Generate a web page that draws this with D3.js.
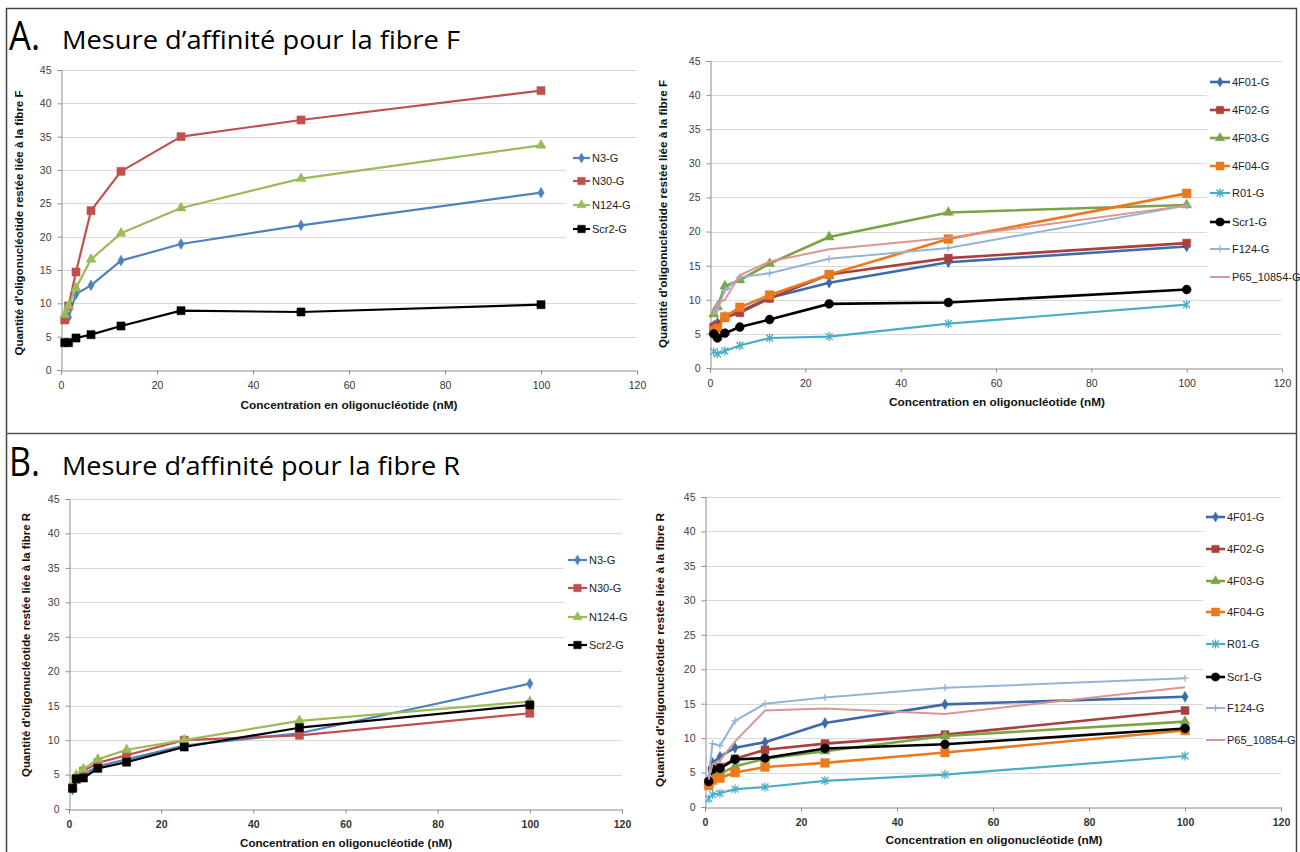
<!DOCTYPE html>
<html><head><meta charset="utf-8">
<script src="https://cdn.jsdelivr.net/npm/d3@7"></script>
<style>
html,body{margin:0;padding:0;background:#fff;}
svg{display:block;}
</style></head>
<body>
<svg id="chart" width="1300" height="852"></svg>
<script>
// ---------- DATA ----------
const concentrations = [0.78125, 1.5625, 3.125, 6.25, 12.5, 25, 50, 100];
const xTicks = [0, 20, 40, 60, 80, 100, 120];
const yTicks = [0, 5, 10, 15, 20, 25, 30, 35, 40, 45];

// A. fibre F, left panel
const aN3   = [8.2, 7.9, 11.4, 12.7, 16.4, 18.9, 21.7, 26.6];
const aN30  = [7.5, 9.6, 14.7, 23.9, 29.8, 35.0, 37.5, 41.9];
const aN124 = [8.3, 9.6, 12.3, 16.6, 20.5, 24.3, 28.7, 33.7];
const aScr2 = [4.1, 4.1, 4.8, 5.3, 6.6, 8.9, 8.7, 9.8];

// A. fibre F, right panel
const a4F01 = [6.2, 6.6, 7.5, 8.3, 10.3, 12.5, 15.5, 17.8];
const a4F02 = [6.0, 6.3, 7.4, 8.1, 10.2, 13.7, 16.1, 18.3];
const a4F03 = [7.9, 9.0, 12.0, 12.9, 15.3, 19.2, 22.8, 23.9];
const a4F04 = [5.5, 5.8, 7.5, 8.9, 10.7, 13.7, 18.9, 25.6];
const aR01  = [2.4, 2.1, 2.5, 3.3, 4.4, 4.6, 6.5, 9.3];
const aScr1 = [5.0, 4.4, 5.1, 6.0, 7.1, 9.4, 9.6, 11.5];
const aF124 = [8.0, 8.5, 11.4, 13.3, 13.9, 16.0, 17.6, 23.8];
const aP65  = [8.0, 9.5, 10.0, 13.6, 15.6, 17.4, 19.1, 23.8];

// B. fibre R, left panel
const bN3   = [2.8, 4.2, 5.0, 6.2, 7.2, 9.2, 11.0, 18.2];
const bN30  = [3.1, 4.3, 5.5, 6.7, 7.8, 10.0, 10.7, 13.9];
const bN124 = [3.2, 4.9, 5.8, 7.2, 8.6, 10.0, 12.8, 15.6];
const bScr2 = [3.0, 4.4, 4.5, 5.9, 6.8, 9.0, 11.8, 15.1];

// B. fibre R, right panel
const b4F01 = [3.8, 6.4, 7.3, 8.6, 9.4, 12.2, 14.9, 16.0];
const b4F02 = [3.6, 5.4, 5.8, 7.0, 8.3, 9.2, 10.5, 14.0];
const b4F03 = [3.4, 4.5, 4.8, 5.9, 7.0, 8.1, 10.3, 12.4];
const b4F04 = [3.1, 3.9, 4.2, 5.0, 5.8, 6.4, 7.9, 11.1];
const bR01  = [1.2, 1.8, 2.0, 2.6, 2.9, 3.8, 4.7, 7.4];
const bScr1 = [3.7, 5.5, 5.6, 6.9, 7.1, 8.5, 9.1, 11.4];
const bF124 = [4.5, 9.2, 8.9, 12.5, 15.0, 15.9, 17.3, 18.7];
const bP65  = [4.0, 6.2, 6.8, 9.5, 14.0, 14.3, 13.5, 17.4];

const leftNames  = ["N3-G", "N30-G", "N124-G", "Scr2-G"];
const rightNames = ["4F01-G", "4F02-G", "4F03-G", "4F04-G", "R01-G", "Scr1-G", "F124-G", "P65_10854-G"];

// ---------- STYLES ----------
const leftStyle = [
  {color:"#4F81BD", marker:"diamond", w:2.2, ms:34},
  {color:"#C0504D", marker:"square",  w:2.2, ms:66},
  {color:"#9BBB59", marker:"triangle",w:2.2, ms:44},
  {color:"#000000", marker:"square",  w:2.2, ms:66}
];
const rightStyle = [
  {color:"#3E6AAA", marker:"diamond", w:2.6, ms:34},
  {color:"#AA403D", marker:"square",  w:2.6, ms:64},
  {color:"#7DA344", marker:"triangle",w:2.6, ms:44},
  {color:"#EC7A1C", marker:"square",  w:2.6, ms:76},
  {color:"#4BACC6", marker:"asterisk",w:2.2, ms:7},
  {color:"#000000", marker:"circle",  w:2.6, ms:62},
  {color:"#95B3D7", marker:"plus",    w:2.0, ms:7},
  {color:"#D99694", marker:"none",    w:2.0, ms:0}
];

const FONT = "'Liberation Sans', Arial, sans-serif";
const svg = d3.select("#chart");

// frame
svg.append("rect").attr("x",0).attr("y",0).attr("width",1300).attr("height",852).attr("fill","#fff");
svg.append("path").attr("d","M6.5,852 V8.5 H1296.5 V852").attr("fill","none").attr("stroke","#444").attr("stroke-width",1.5);
svg.append("line").attr("x1",6).attr("x2",1297).attr("y1",433.5).attr("y2",433.5).attr("stroke","#555").attr("stroke-width",1.5);

// titles
function title(letter, text, y){
  svg.append("text").attr("x",9).attr("y",y).attr("font-family","'Open Sans', Arial, sans-serif")
    .attr("font-size",40).attr("fill","#000").attr("textLength",31).attr("lengthAdjust","spacingAndGlyphs").text(letter);
  svg.append("text").attr("x",62).attr("y",y-1).attr("font-family","'Open Sans', Arial, sans-serif")
    .attr("font-size",25).attr("fill","#000").attr("textLength",398).attr("lengthAdjust","spacingAndGlyphs").text(text);
}
title("A.", "Mesure d’affinité pour la fibre F", 50);
title("B.", "Mesure d’affinité pour la fibre R", 476);

function markerPath(type, size){
  if(type==="diamond") return d3.symbol(d3.symbolDiamond, size)();
  if(type==="square") return d3.symbol(d3.symbolSquare, size)();
  if(type==="triangle") return d3.symbol(d3.symbolTriangle, size)();
  if(type==="circle") return d3.symbol(d3.symbolCircle, size)();
  if(type==="asterisk"){ const s=size/2; return `M${-s},${-s}L${s},${s}M${-s},${s}L${s},${-s}M0,${-s-1}L0,${s+1}`; }
  if(type==="plus"){ const s=size/2; return `M${-s},0L${s},0M0,${-s}L0,${s}`; }
  return null;
}

function panel(cfg){
  const g = svg.append("g");
  const x = d3.scaleLinear().domain([0,120]).range([cfg.x0, cfg.x1]);
  const y = d3.scaleLinear().domain([0,45]).range([cfg.y0, cfg.y45]);

  // gridlines
  g.append("g").selectAll("line").data(yTicks.filter(d=>d>0)).join("line")
    .attr("x1",cfg.x0).attr("x2",cfg.x1)
    .attr("y1",d=>Math.round(y(d))+0.5).attr("y2",d=>Math.round(y(d))+0.5)
    .attr("stroke","#D9D9D9").attr("stroke-width",1);

  // legend background (covers gridlines)
  g.append("rect").attr("x",cfg.legBox[0]).attr("y",cfg.legBox[1])
    .attr("width",cfg.legBox[2]).attr("height",cfg.legBox[3]).attr("fill","#fff");

  // axes
  const xAxis = g.append("g").attr("transform",`translate(0,${Math.round(cfg.y0)+0.5})`)
    .call(d3.axisBottom(x).tickValues(xTicks).tickSize(4).tickPadding(7).tickFormat(d3.format("d")));
  const yAxis = g.append("g").attr("transform",`translate(${Math.round(cfg.x0)+0.5},0)`)
    .call(d3.axisLeft(y).tickValues(yTicks).tickSize(4).tickPadding(6).tickFormat(d3.format("d")));
  [xAxis,yAxis].forEach(a=>{
    a.select(".domain").attr("stroke","#8C8C8C").attr("stroke-width",1);
    a.selectAll(".tick line").attr("stroke","#8C8C8C");
    a.selectAll(".tick text").attr("font-family",FONT).attr("font-size",10.5).attr("fill","#333")
      .attr("font-weight", cfg.boldX ? "bold" : "normal");
  });
  yAxis.selectAll(".tick text").attr("font-weight","normal").attr("fill","#404040");

  // axis titles
  g.append("text").attr("x",cfg.xlab[0]).attr("y",cfg.xlab[1]).attr("text-anchor","middle")
    .attr("font-family",FONT).attr("font-weight","bold").attr("font-size",11).attr("fill","#111")
    .attr("textLength",cfg.xlab[2]).attr("lengthAdjust","spacingAndGlyphs")
    .text("Concentration en oligonucléotide (nM)");
  g.append("text").attr("transform",`translate(${cfg.ylab[0]},${cfg.ylab[1]}) rotate(-90)`).attr("text-anchor","middle")
    .attr("font-family",FONT).attr("font-weight","bold").attr("font-size",11).attr("fill","#111")
    .attr("textLength",cfg.ylab[2]).attr("lengthAdjust","spacingAndGlyphs")
    .text(cfg.ytitle);

  const line = d3.line().x(d=>x(d[0])).y(d=>y(d[1]));

  // series
  cfg.series.forEach((s,i)=>{
    const st = cfg.styles[i];
    const pts = concentrations.map((c,k)=>[c, s[k]]);
    const sg = g.append("g");
    sg.append("path").datum(pts).attr("d",line).attr("fill","none")
      .attr("stroke",st.color).attr("stroke-width",st.w).attr("stroke-linejoin","round");
    const mp = markerPath(st.marker, st.ms);
    if(mp){
      const stroked = st.marker==="asterisk"||st.marker==="plus";
      sg.selectAll("path.m").data(pts).join("path").attr("class","m")
        .attr("transform",d=>`translate(${x(d[0])},${y(d[1])})`)
        .attr("d",mp)
        .attr("fill",stroked?"none":st.color)
        .attr("stroke",st.color).attr("stroke-width",stroked?1.3:0.5);
    }
  });

  // legend
  cfg.names.forEach((n,i)=>{
    const st = cfg.styles[i];
    const ly = cfg.legYs[i];
    const lg = g.append("g");
    lg.append("line").attr("x1",cfg.legX[0]).attr("x2",cfg.legX[1]).attr("y1",ly).attr("y2",ly)
      .attr("stroke",st.color).attr("stroke-width",st.w);
    const mp = markerPath(st.marker, st.ms*(st.marker==="asterisk"||st.marker==="plus"?1:0.85));
    if(mp){
      const stroked = st.marker==="asterisk"||st.marker==="plus";
      lg.append("path").attr("transform",`translate(${(cfg.legX[0]+cfg.legX[1])/2},${ly})`).attr("d",mp)
        .attr("fill",stroked?"none":st.color).attr("stroke",st.color).attr("stroke-width",stroked?1.3:0.5);
    }
    lg.append("text").attr("x",cfg.legX[1]+2).attr("y",ly+4).attr("font-family",FONT)
      .attr("font-size",11).attr("fill","#222").text(n);
  });
}

panel({
  x0:61, x1:637, y0:370, y45:70,
  series:[aN3,aN30,aN124,aScr2], styles:leftStyle, names:leftNames,
  legX:[573,590], legYs:[158,181,205,229], legBox:[566,140,71,108],
  xlab:[349,409,217], ylab:[23,223,265], ytitle:"Quantité d'oligonucléotide restée liée à la fibre F"
});
panel({
  x0:710, x1:1282, y0:368, y45:61,
  series:[a4F01,a4F02,a4F03,a4F04,aR01,aScr1,aF124,aP65], styles:rightStyle, names:rightNames,
  legX:[1210,1230], legYs:[82,110,138,166,193,222,249,277], legBox:[1207,66,76,226],
  xlab:[997,406,216], ylab:[667,214,268], ytitle:"Quantité d'oligonucléotide restée liée à la fibre F"
});
panel({
  x0:69, x1:622, y0:809, y45:499,
  series:[bN3,bN30,bN124,bScr2], styles:leftStyle, names:leftNames, boldX:true,
  legX:[568,587], legYs:[560,588,617,645], legBox:[564,540,58,120],
  xlab:[346,847,212], ylab:[30,645,264], ytitle:"Quantité d'oligonucléotide restée liée à la fibre  R"
});
panel({
  x0:705, x1:1281, y0:807, y45:497,
  series:[b4F01,b4F02,b4F03,b4F04,bR01,bScr1,bF124,bP65], styles:rightStyle, names:rightNames, boldX:true,
  legX:[1206,1225], legYs:[517,549,581,612,644,677,708,740], legBox:[1203,502,78,256],
  xlab:[994,844,217], ylab:[664,650,274], ytitle:"Quantité d'oligonucléotide restée liée à la fibre  R"
});
</script>
</body></html>
